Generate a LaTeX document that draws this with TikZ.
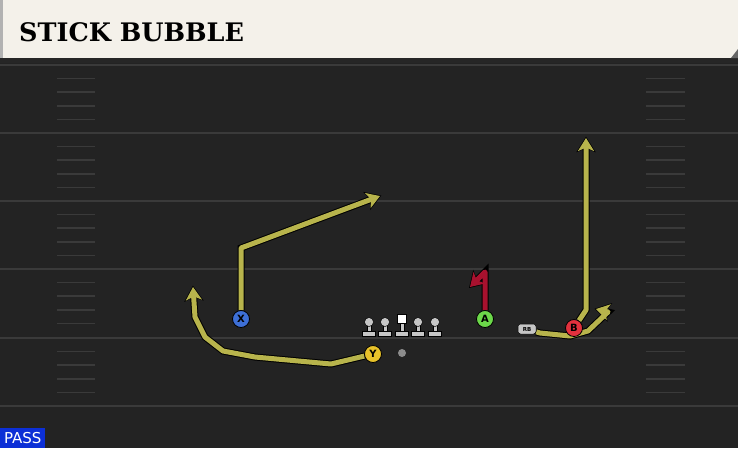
\documentclass[tikz,border=0pt]{standalone}
\usepackage{fontspec}
\setmainfont{DejaVu Sans}
\newfontfamily\titlefont{DejaVu Serif}
\usetikzlibrary{arrows.meta}
\definecolor{field}{HTML}{232323}
\definecolor{yardline}{HTML}{3A3A3A}
\definecolor{header}{HTML}{F4F1EA}
\definecolor{routeyel}{HTML}{B8B44C}
\definecolor{routered}{HTML}{A8112E}
\definecolor{xblue}{HTML}{3D6FD6}
\definecolor{yyellow}{HTML}{E8C22A}
\definecolor{agreen}{HTML}{6CD84A}
\definecolor{bred}{HTML}{E2313D}
\definecolor{lineman}{HTML}{C6C6C6}
\definecolor{passblue}{HTML}{0C2FD6}
\pgfdeclarelayer{bg}
\pgfdeclarelayer{routes}
\pgfsetlayers{bg,routes,main}
\begin{document}
\begin{tikzpicture}[x=1pt, y=-1pt,
  player/.style={circle, draw=black, line width=0.8pt, minimum size=17pt, inner sep=0pt, font=\bfseries\fontsize{10}{10}\selectfont},
  route/.style={draw=routeyel, line width=5pt, line join=round,
    -{Stealth[length=13pt, width=16pt, inset=3.5pt]},
    preaction={draw=black, line width=7pt, shorten >=-1.4pt, -{Stealth[length=15.5pt, width=19pt, inset=4pt]}}},
  redroute/.style={route, draw=routered},
  hash/.style={draw=yardline, line width=1.5pt},
  yard/.style={draw=yardline, line width=2pt},
  olman/.style={fill=lineman, draw=black, line width=0.5pt}]
\useasboundingbox (0,0) rectangle (738,448);
\begin{pgfonlayer}{bg}
% field and header
\fill[field] (0,0) rectangle (738,448);
\foreach \y in {65,133,201,269,338,406}
  \draw[yard] (0,\y) -- (738,\y);
\foreach \y in {65,133,201,269,338}
  \foreach \k in {1,2,3,4} {
    \draw[hash] (57,\y+\k*13.6) -- (95,\y+\k*13.6);
    \draw[hash] (646,\y+\k*13.6) -- (685,\y+\k*13.6);
  }
\fill[black!85] (0,57) rectangle (738,63);
\fill[header] (0,0) rectangle (738,58);
\fill[black!30] (0,0) rectangle (3,58);
\fill[black!60] (738,49) -- (738,58) -- (731,58) -- cycle;
\node[anchor=west, inner sep=0pt, font=\titlefont\bfseries\fontsize{25.5}{25.5}\selectfont] (title) at (19,32) {STICK BUBBLE};
\node[fill=passblue, text=white, anchor=south west, minimum width=45pt, minimum height=20pt, inner sep=0pt, font=\fontsize{15}{15}\selectfont] (pass) at (0,448) {PASS};
\end{pgfonlayer}
% offensive line
\foreach \n/\xx in {lt/369,lg/385,rg/418,rt/435} {
  \fill[olman] (\xx-6.5,336) rectangle (\xx+6.5,331) (\xx-2,331) rectangle (\xx+2,324);
  \node[circle, olman, minimum size=9pt, inner sep=0pt] (\n) at (\xx,322) {};
}
\fill[olman] (395.5,336) rectangle (408.5,331) (400,331) rectangle (404,323);
\node[olman, fill=white, minimum size=9pt, inner sep=0pt] (c) at (402,319) {};
\node[circle, fill=black!45, minimum size=8pt, inner sep=0pt] (qb) at (402,353) {};
% players
\node[player, fill=xblue] (X) at (241,319) {X};
\node[player, fill=yyellow] (Y) at (373,354) {Y};
\node[player, fill=agreen] (A) at (485,319) {A};
\node[player, fill=bred] (B) at (574,328) {B};
\node[olman, rounded corners=2.5pt, minimum width=18pt, minimum height=10pt, inner sep=0pt, font=\bfseries\fontsize{5.5}{5.5}\selectfont] (rb) at (527,329) {RB};
% routes
\begin{pgfonlayer}{routes}
\draw[route] (X) -- (241,248) -- (380,196);
\draw[route] (Y) -- (331,364) -- (255,357) -- (223,351) -- (205,337) -- (195,317) -- (193,287);
\draw[redroute] (A) -- (485,272) -- (470,287);
\draw[route] (B) -- (586,310) -- (586,138);
\draw[route] (rb) -- (540,333) -- (570,336) -- (588,331) -- (608,312) -- (596,309);
\end{pgfonlayer}
\end{tikzpicture}
\end{document}
